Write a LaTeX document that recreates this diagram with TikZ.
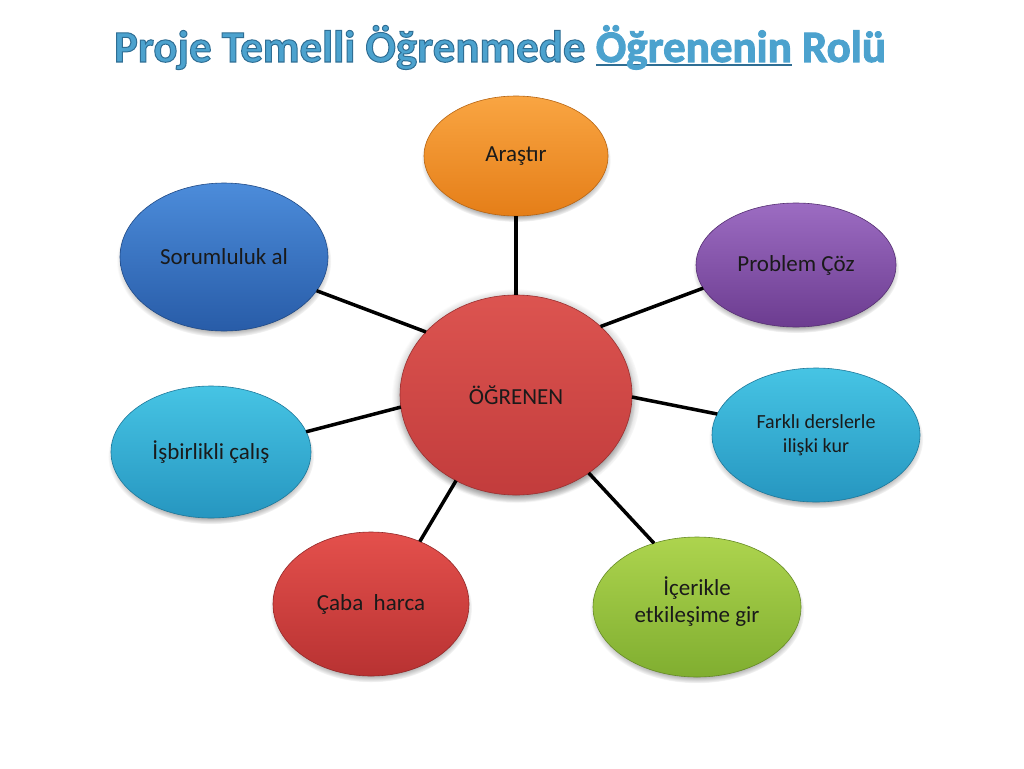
\documentclass[tikz,border=0pt]{standalone}
\usepackage{fontspec}
\setmainfont{Carlito}
\usetikzlibrary{shapes.geometric,shadows}
\definecolor{titleblue}{HTML}{4CA2CE}
\definecolor{titleline}{HTML}{2F6E94}
\definecolor{txt}{HTML}{1A1A1A}
\definecolor{orT}{HTML}{F9A542}\definecolor{orB}{HTML}{E57E18}
\definecolor{puT}{HTML}{9C6CC2}\definecolor{puB}{HTML}{6C3C90}
\definecolor{cyT}{HTML}{46C4E4}\definecolor{cyB}{HTML}{2696C0}
\definecolor{grT}{HTML}{ADD44E}\definecolor{grB}{HTML}{80AE30}
\definecolor{reT}{HTML}{E4504C}\definecolor{reB}{HTML}{B83232}
\definecolor{blT}{HTML}{4C8CDA}\definecolor{blB}{HTML}{285CA8}
\definecolor{ceT}{HTML}{DC5450}\definecolor{ceB}{HTML}{C23C3C}
\newcommand\outlinedtext[1]{\special{pdf:literal 2 Tr 1.0 w 0.184 0.431 0.580 RG}#1\special{pdf:literal 0 Tr}}
\newcommand\thickul[1]{\setbox0\hbox{#1}\rlap{\color{titleline}\rule[-4.5pt]{\wd0}{2.6pt}}\box0\relax}
\tikzset{
  bub/.style n args={2}{ellipse, inner sep=0pt, outer sep=0pt,
    top color=#1, bottom color=#2, draw=#2!80!black, line width=0.6pt,
    circular drop shadow={shadow xshift=0pt, shadow yshift=-4pt, shadow scale=1.03},
    text=txt, align=center, font=\fontsize{23}{27}\selectfont},
  conn/.style={line width=3.5pt, black}
}
\begin{document}
\begin{tikzpicture}[x=1pt,y=-1pt]
\fill[white] (0,0) rectangle (1024,768);
\useasboundingbox (0,0) rectangle (1024,768);
\node[anchor=base, text=titleblue, font=\fontsize{45}{50}\selectfont\bfseries] (title) at (500,62)
  {\outlinedtext{Proje Temelli Öğrenmede \thickul{Öğrenenin} Rolü}};

\node[bub={orT}{orB}, minimum width=184pt, minimum height=120pt] (ara) at (516,156) {Araştır};
\node[bub={puT}{puB}, minimum width=200pt, minimum height=124pt] (pro) at (796,265) {Problem Çöz};
\node[bub={cyT}{cyB}, minimum width=208pt, minimum height=134pt, font=\fontsize{20}{24}\selectfont] (far) at (816,435) {Farklı derslerle\\ilişki kur};
\node[bub={grT}{grB}, minimum width=208pt, minimum height=140pt, text depth=14pt] (ice) at (697,607) {İçerikle\\etkileşime gir};
\node[bub={reT}{reB}, minimum width=196pt, minimum height=144pt] (cab) at (371,604) {Çaba~~harca};
\node[bub={cyT}{cyB}, minimum width=200pt, minimum height=132pt] (isb) at (211,452) {İşbirlikli çalış};
\node[bub={blT}{blB}, minimum width=208pt, minimum height=148pt] (sor) at (224,257) {Sorumluluk al};
\node[bub={ceT}{ceB}, minimum width=232pt, minimum height=200pt,
  circular drop shadow={shadow xshift=0pt, shadow yshift=-1pt, shadow scale=1.07, fill=black!80, opacity=0.45}] (cen) at (516,395) {ÖĞRENEN};

\draw[conn] (cen.90) -- (ara.270);
\draw[conn] (cen.39) -- (pro.194);
\draw[conn] (cen.359) -- (far.168);
\draw[conn] (cen.313) -- (ice.124);
\draw[conn] (cen.235) -- (cab.52);
\draw[conn] (cen.186) -- (isb.12);
\draw[conn] (cen.145) -- (sor.340);
\end{tikzpicture}
\end{document}
